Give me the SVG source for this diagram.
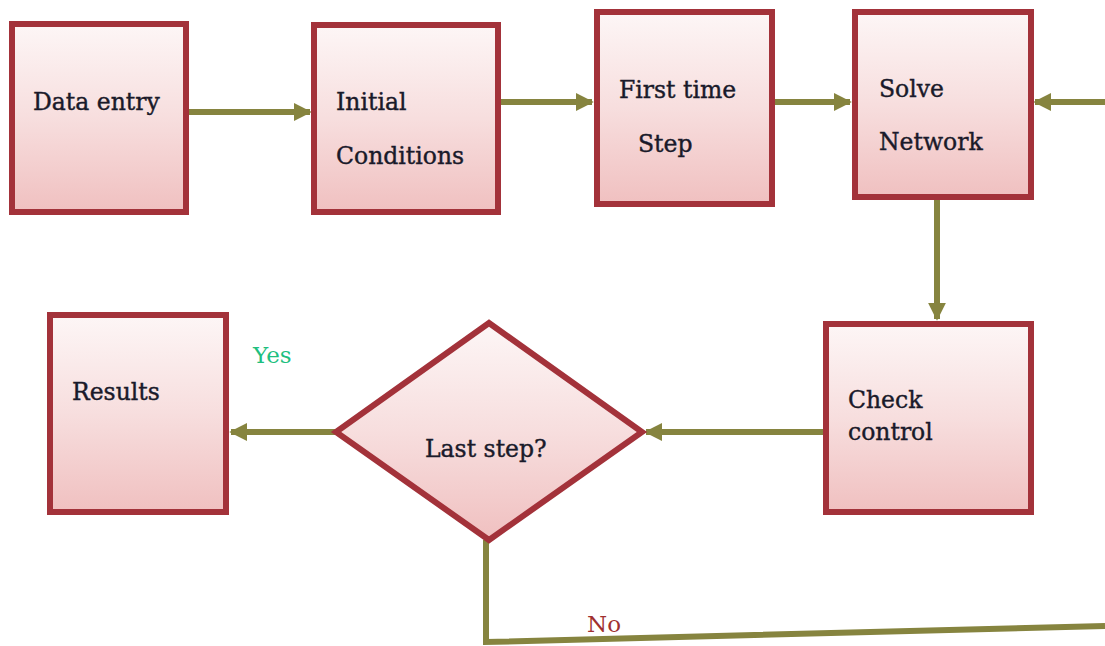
<svg xmlns="http://www.w3.org/2000/svg" width="1105" height="646" viewBox="0 0 1105 646">
<defs>
<linearGradient id="g" x1="0" y1="0" x2="0" y2="1">
<stop offset="0" stop-color="#fdf6f6"/>
<stop offset="0.5" stop-color="#f7dede"/>
<stop offset="1" stop-color="#f0c0c0"/>
</linearGradient>
<marker id="ah" viewBox="0 0 10 10" refX="9" refY="5" markerWidth="3" markerHeight="3" orient="auto" markerUnits="strokeWidth">
<path d="M0,0 L10,5 L0,10 z" fill="#86843f"/>
</marker>
<style>
.box{fill:url(#g);stroke:#a3323a;stroke-width:6}
.t{font-family:"DejaVu Serif","Liberation Serif",serif;font-size:23.5px;fill:#1a1a2a;stroke:#1a1a2a;stroke-width:0.4}
.c{fill:none;stroke:#86843f;stroke-width:6}
.lbl{font-family:"DejaVu Serif","Liberation Serif",serif;font-size:23px}
</style>
</defs>
<rect width="1105" height="646" fill="#ffffff"/>
<g id="connectors">
<line class="c" x1="188" y1="112" x2="310" y2="112" marker-end="url(#ah)"/>
<line class="c" x1="500" y1="102" x2="592" y2="102" marker-end="url(#ah)"/>
<line class="c" x1="774" y1="102" x2="850" y2="102" marker-end="url(#ah)"/>
<line class="c" x1="1105" y1="102" x2="1035" y2="102" marker-end="url(#ah)"/>
<line class="c" x1="937" y1="199" x2="937" y2="319" marker-end="url(#ah)"/>
<line class="c" x1="823" y1="432" x2="646" y2="432" marker-end="url(#ah)"/>
<line class="c" x1="335" y1="432" x2="231" y2="432" marker-end="url(#ah)"/>
<polyline class="c" stroke-width="4" points="486,540 486,642 1105,626"/>
</g>
<g id="n-data"><rect class="box" x="12" y="24" width="174" height="188"/><text class="t" x="33" y="110">Data entry</text></g>
<g id="n-initial"><rect class="box" x="314" y="25" width="184" height="187"/><text class="t" x="336" y="110">Initial</text><text class="t" x="336" y="164">Conditions</text></g>
<g id="n-first"><rect class="box" x="597" y="12" width="175" height="192"/><text class="t" x="619" y="98">First time</text><text class="t" x="638" y="152">Step</text></g>
<g id="n-solve"><rect class="box" x="855" y="12" width="176" height="185"/><text class="t" x="879" y="97">Solve</text><text class="t" x="879" y="150">Network</text></g>
<g id="n-check"><rect class="box" x="826" y="324" width="205" height="188"/><text class="t" x="848" y="408">Check</text><text class="t" x="848" y="440">control</text></g>
<g id="n-results"><rect class="box" x="50" y="315" width="176" height="197"/><text class="t" x="72" y="400">Results</text></g>
<g id="n-last"><polygon class="box" stroke-width="5" points="489,323 642,432 489,540 336,432"/><text class="t" x="425" y="457">Last step?</text></g>
<text class="lbl" x="253" y="363" fill="#1fbf80">Yes</text>
<text class="lbl" x="587" y="632" fill="#a03030">No</text>
</svg>
